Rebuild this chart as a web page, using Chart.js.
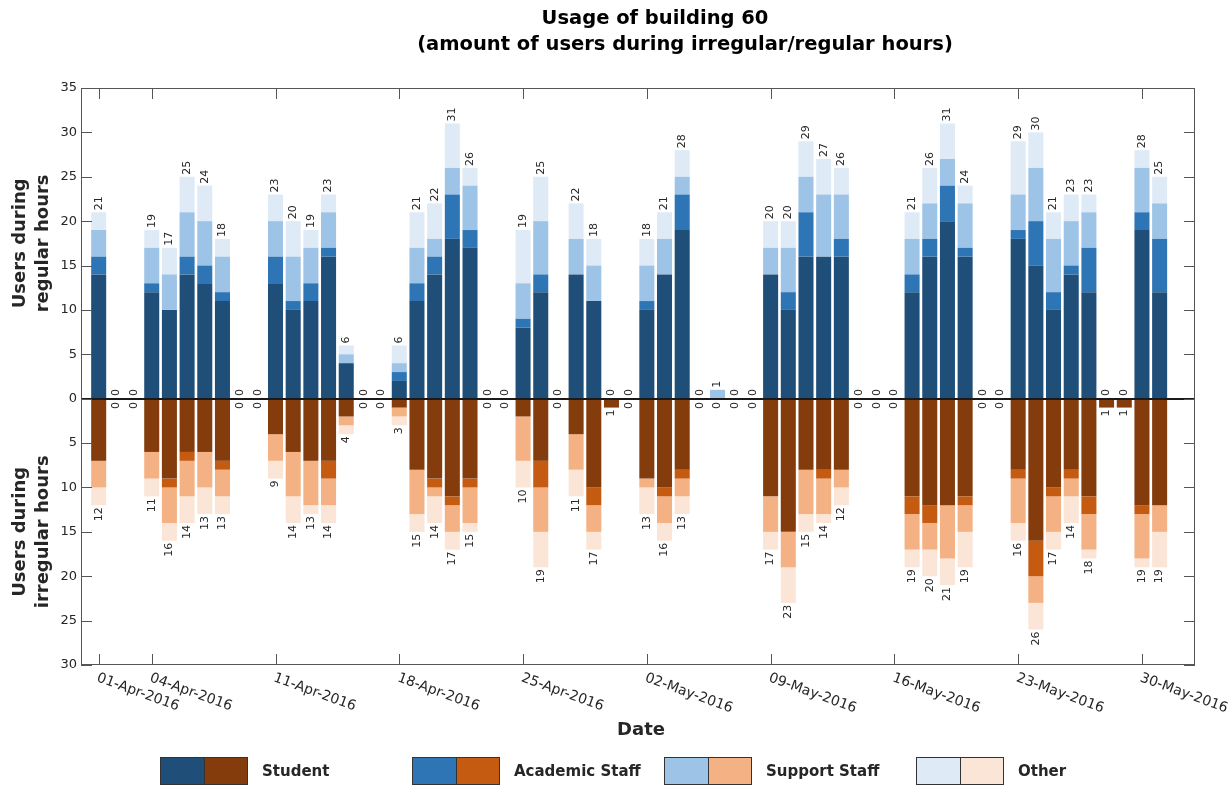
<!DOCTYPE html>
<html>
<head>
<meta charset="utf-8">
<title>Usage of building 60</title>
<script src="https://cdn.jsdelivr.net/npm/chart.js@4.4.0/dist/chart.umd.min.js"></script>
<style>
  html, body { margin: 0; padding: 0; background: #fff; }
  #wrap { position: relative; width: 1230px; height: 787px; }
</style>
</head>
<body>
<div id="wrap"><canvas id="usageChart" width="1230" height="787"></canvas></div>
<script>
// one bar per day, April and May 2016
const dates = [
  '2016-04-01','2016-04-02','2016-04-03','2016-04-04','2016-04-05','2016-04-06','2016-04-07','2016-04-08','2016-04-09','2016-04-10',
  '2016-04-11','2016-04-12','2016-04-13','2016-04-14','2016-04-15','2016-04-16','2016-04-17','2016-04-18','2016-04-19','2016-04-20',
  '2016-04-21','2016-04-22','2016-04-23','2016-04-24','2016-04-25','2016-04-26','2016-04-27','2016-04-28','2016-04-29','2016-04-30',
  '2016-05-01','2016-05-02','2016-05-03','2016-05-04','2016-05-05','2016-05-06','2016-05-07','2016-05-08','2016-05-09','2016-05-10',
  '2016-05-11','2016-05-12','2016-05-13','2016-05-14','2016-05-15','2016-05-16','2016-05-17','2016-05-18','2016-05-19','2016-05-20',
  '2016-05-21','2016-05-22','2016-05-23','2016-05-24','2016-05-25','2016-05-26','2016-05-27','2016-05-28','2016-05-29','2016-05-30',
  '2016-05-31'
];

// users during regular hours
const regStudent  = [14,0,0,12,10,14,13,11,0,0, 13,10,11,16,4,0,0,2,11,14, 18,17,0,0,8,12,0,14,11,0,
                     0,10,14,19,0,0,0,0,14,10, 16,16,16,0,0,0,12,16,20,16, 0,0,18,15,10,14,12,0,0,19, 12];
const regAcademic = [2,0,0,1,0,2,2,1,0,0, 3,1,2,1,0,0,0,1,2,2, 5,2,0,0,1,2,0,0,0,0,
                     0,1,0,4,0,0,0,0,0,2, 5,0,2,0,0,0,2,2,4,1, 0,0,1,5,2,1,5,0,0,2, 6];
const regSupport  = [3,0,0,4,4,5,5,4,0,0, 4,5,4,4,1,0,0,1,4,2, 3,5,0,0,4,6,0,4,4,0,
                     0,4,4,2,0,1,0,0,3,5, 4,7,5,0,0,0,4,4,3,5, 0,0,4,6,6,5,4,0,0,5, 4];
const regOther    = [2,0,0,2,3,4,4,2,0,0, 3,4,2,2,1,0,0,2,4,4, 5,2,0,0,6,5,0,4,3,0,
                     0,3,3,3,0,0,0,0,3,3, 4,4,3,0,0,0,3,4,4,2, 0,0,6,4,3,3,2,0,0,2, 3];

// users during irregular hours
const irrStudent  = [7,0,0,6,9,6,6,7,0,0, 4,6,7,7,2,0,0,1,8,9, 11,9,0,0,2,7,0,4,10,1,
                     0,9,10,8,0,0,0,0,11,15, 8,8,8,0,0,0,11,12,12,11, 0,0,8,16,10,8,11,1,1,12, 12];
const irrAcademic = [0,0,0,0,1,1,0,1,0,0, 0,0,0,2,0,0,0,0,0,1, 1,1,0,0,0,3,0,0,2,0,
                     0,0,1,1,0,0,0,0,0,0, 0,1,0,0,0,0,2,2,0,1, 0,0,1,4,1,1,2,0,0,1, 0];
const irrSupport  = [3,0,0,3,4,4,4,3,0,0, 3,5,5,3,1,0,0,1,5,1, 3,4,0,0,5,5,0,4,3,0,
                     0,1,3,2,0,0,0,0,4,4, 5,4,2,0,0,0,4,3,6,3, 0,0,5,3,4,2,4,0,0,5, 3];
const irrOther    = [2,0,0,2,2,3,3,2,0,0, 2,3,1,2,1,0,0,1,2,3, 2,1,0,0,3,4,0,3,2,0,
                     0,3,2,2,0,0,0,0,2,4, 2,1,2,0,0,0,2,3,3,4, 0,0,2,3,2,3,1,0,0,1, 4];

const groups = ['Student', 'Academic Staff', 'Support Staff', 'Other'];
const tickDays = ['2016-04-01','2016-04-04','2016-04-11','2016-04-18','2016-04-25',
                  '2016-05-02','2016-05-09','2016-05-16','2016-05-23','2016-05-30'];
const xRange = ['2016-03-31', '2016-06-02'];

const regColors = ['#1f4e79', '#2e75b6', '#9dc3e6', '#deebf7'];
const irrColors = ['#843c0c', '#c55a11', '#f4b183', '#fbe5d6'];
const FONT = "'DejaVu Sans', sans-serif";
const INK = '#262626';
const MONTHS = ['Jan','Feb','Mar','Apr','May','Jun','Jul','Aug','Sep','Oct','Nov','Dec'];

const regular = [regStudent, regAcademic, regSupport, regOther];
const irregular = [irrStudent, irrAcademic, irrSupport, irrOther];

const dayNum = s => Math.round((Date.parse(s) - Date.parse(dates[0])) / 864e5);
const fmtDate = s => {
  const [yy, mm, dd] = s.split('-');
  return dd + '-' + MONTHS[+mm - 1] + '-' + yy;
};
const sumAt = (sets, i) => sets.reduce((t, arr) => t + arr[i], 0);

const datasets = [];
groups.forEach((g, k) => {
  datasets.push({
    label: g + ' (regular hours)',
    data: dates.map((d, i) => ({ x: dayNum(d), y: regular[k][i] })),
    backgroundColor: regColors[k]
  });
});
groups.forEach((g, k) => {
  datasets.push({
    label: g + ' (irregular hours)',
    data: dates.map((d, i) => ({ x: dayNum(d), y: irregular[k][i] ? -irregular[k][i] : 0 })),
    backgroundColor: irrColors[k]
  });
});

// axis box, zero line, totals, rotated date labels, titles and legend
const figureDecor = {
  id: 'figureDecor',
  afterDatasetsDraw(chart) {
    const { ctx, chartArea: a, scales: { x, y } } = chart;
    ctx.save();

    // zero line
    const y0 = Math.round(y.getPixelForValue(0));
    ctx.strokeStyle = '#1a1a1a';
    ctx.lineWidth = 2;
    ctx.beginPath();
    ctx.moveTo(a.left, y0);
    ctx.lineTo(a.right, y0);
    ctx.stroke();

    // box with inward ticks
    ctx.strokeStyle = '#555';
    ctx.lineWidth = 1;
    ctx.strokeRect(a.left + 0.5, a.top + 0.5, a.right - a.left - 1, a.bottom - a.top - 1);
    const tl = 11;
    ctx.beginPath();
    y.ticks.forEach(t => {
      const py = Math.round(y.getPixelForValue(t.value)) + 0.5;
      ctx.moveTo(a.left, py); ctx.lineTo(a.left + tl, py);
      ctx.moveTo(a.right, py); ctx.lineTo(a.right - tl, py);
    });
    tickDays.forEach(d => {
      const px = Math.round(x.getPixelForValue(dayNum(d))) + 0.5;
      ctx.moveTo(px, a.bottom); ctx.lineTo(px, a.bottom - tl);
      ctx.moveTo(px, a.top); ctx.lineTo(px, a.top + tl);
    });
    ctx.stroke();

    // daily totals above and below the bars
    ctx.fillStyle = INK;
    ctx.font = '11px ' + FONT;
    ctx.textBaseline = 'middle';
    dates.forEach((d, i) => {
      const px = x.getPixelForValue(dayNum(d));
      const up = sumAt(regular, i);
      const down = sumAt(irregular, i);
      const pu = up ? y.getPixelForValue(up) : y0 - 1;
      const pd = down ? y.getPixelForValue(-down) : y0 + 1;
      ctx.save();
      ctx.translate(px, pu - 2);
      ctx.rotate(-Math.PI / 2);
      ctx.textAlign = 'left';
      ctx.fillText(String(up), 0, 0);
      ctx.restore();
      ctx.save();
      ctx.translate(px, pd + 2);
      ctx.rotate(-Math.PI / 2);
      ctx.textAlign = 'right';
      ctx.fillText(String(down), 0, 0);
      ctx.restore();
    });

    // date tick labels, slanted down to the right
    ctx.font = '14px ' + FONT;
    ctx.textAlign = 'left';
    ctx.textBaseline = 'top';
    tickDays.forEach(d => {
      const px = x.getPixelForValue(dayNum(d));
      ctx.save();
      ctx.translate(px + 1, a.bottom + 6);
      ctx.rotate(20 * Math.PI / 180);
      ctx.fillText(fmtDate(d), 0, 0);
      ctx.restore();
    });

    // x axis title
    const cx = (a.left + a.right) / 2;
    ctx.font = 'bold 18px ' + FONT;
    ctx.textAlign = 'center';
    ctx.textBaseline = 'middle';
    ctx.fillText('Date', cx + 3, a.bottom + 65);

    // y axis titles, one for each half
    ctx.font = 'bold 18px ' + FONT;
    const halves = [
      [['Users during', 'regular hours'], (y.getPixelForValue(0) + a.top) / 2],
      [['Users during', 'irregular hours'], (y.getPixelForValue(0) + a.bottom) / 2]
    ];
    halves.forEach(([lines, cy]) => {
      ctx.save();
      ctx.translate(32, cy);
      ctx.rotate(-Math.PI / 2);
      ctx.fillText(lines[0], 0, -12);
      ctx.fillText(lines[1], 0, 11);
      ctx.restore();
    });

    // chart title
    ctx.font = 'bold 19.5px ' + FONT;
    ctx.fillStyle = '#000';
    ctx.fillText('Usage of building 60', cx + 17, 19);
    ctx.fillText('(amount of users during irregular/regular hours)', cx + 47, 45);

    // legend: regular / irregular swatch pair per group
    const lx = 160, ly = 757, sw = 44, sh = 28, step = 252;
    ctx.font = 'bold 15px ' + FONT;
    ctx.textAlign = 'left';
    groups.forEach((g, k) => {
      const x0 = lx + k * step;
      ctx.fillStyle = regColors[k];
      ctx.fillRect(x0, ly, sw, sh);
      ctx.fillStyle = irrColors[k];
      ctx.fillRect(x0 + sw, ly, sw, sh);
      ctx.strokeStyle = '#333';
      ctx.lineWidth = 1;
      ctx.strokeRect(x0 + 0.5, ly + 0.5, sw, sh - 1);
      ctx.strokeRect(x0 + sw + 0.5, ly + 0.5, sw - 1, sh - 1);
      ctx.fillStyle = INK;
      ctx.fillText(g, x0 + 2 * sw + 14, ly + sh / 2 + 1);
    });

    ctx.restore();
  }
};

new Chart(document.getElementById('usageChart'), {
  type: 'bar',
  data: { datasets },
  options: {
    responsive: false,
    animation: false,
    events: [],
    datasets: {
      bar: { barPercentage: 0.85, categoryPercentage: 1, borderWidth: 0 }
    },
    layout: { padding: { top: 88, right: 35, bottom: 122, left: 0 } },
    plugins: {
      legend: { display: false },
      title: { display: false },
      tooltip: { enabled: false }
    },
    scales: {
      x: {
        type: 'linear',
        stacked: true,
        offset: false,
        min: dayNum(xRange[0]),
        max: dayNum(xRange[1]),
        grid: { display: false, drawTicks: false, offset: false },
        border: { display: false },
        ticks: { display: false },
        afterFit: s => { s.height = 0; }
      },
      y: {
        stacked: true,
        min: -30,
        max: 35,
        grid: { display: false, drawTicks: false },
        border: { display: false },
        ticks: {
          stepSize: 5,
          padding: 4,
          color: INK,
          font: { family: FONT, size: 13 },
          callback: v => Math.abs(v)
        },
        afterFit: s => { s.width = 81; }
      }
    }
  },
  plugins: [figureDecor]
});
</script>
</body>
</html>
